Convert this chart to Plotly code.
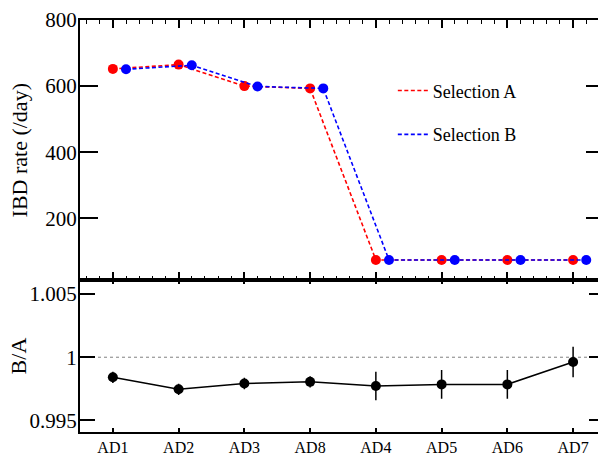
import plotly.graph_objects as go

detectors = ["AD1", "AD2", "AD3", "AD8", "AD4", "AD5", "AD6", "AD7"]
rate_A = [652, 665, 600, 593, 74, 74, 74, 74]
rate_B = [651, 663, 599, 593, 74, 74, 74, 74]
ratio_BA = [0.99841, 0.99746, 0.99792, 0.99805, 0.99772, 0.99785, 0.99785, 0.99962]
ratio_err = [0.00045, 0.00045, 0.00045, 0.00045, 0.00113, 0.00113, 0.00113, 0.0012]

pos = list(range(len(detectors)))
offset_B = 0.2
pos_B = [p + offset_B for p in pos]

FONT = "Liberation Serif"
RED = "#ff0000"
BLUE = "#0000ff"
DASH = "4px,2.5px"

fig = go.Figure()

# Selection A
fig.add_trace(go.Scatter(x=pos, y=rate_A, mode="lines", name="Selection A",
                         line=dict(color=RED, width=1.6, dash=DASH),
                         xaxis="x", yaxis="y", legend="legend"))
fig.add_trace(go.Scatter(x=pos, y=rate_A, mode="markers", showlegend=False,
                         marker=dict(color=RED, size=10),
                         xaxis="x", yaxis="y"))
# Selection B
fig.add_trace(go.Scatter(x=pos_B, y=rate_B, mode="lines", name="Selection B",
                         line=dict(color=BLUE, width=1.6, dash=DASH),
                         xaxis="x", yaxis="y", legend="legend2"))
fig.add_trace(go.Scatter(x=pos_B, y=rate_B, mode="markers", showlegend=False,
                         marker=dict(color=BLUE, size=10),
                         xaxis="x", yaxis="y"))

# Ratio
fig.add_trace(go.Scatter(x=pos, y=ratio_BA, mode="lines+markers", showlegend=False,
                         line=dict(color="black", width=1.5),
                         marker=dict(color="black", size=10),
                         error_y=dict(type="data", array=ratio_err, visible=True,
                                      color="black", thickness=1.5, width=0),
                         xaxis="x2", yaxis="y2"))

split = 0.3679
common_axis = dict(showline=True, linecolor="black", linewidth=2, mirror="ticks",
                   ticks="inside", tickcolor="black", showgrid=False, zeroline=False,
                   ticklabeloverflow="allow",
                   tickfont=dict(family=FONT, size=21, color="black"))

fig.update_layout(
    width=598, height=448,
    margin=dict(l=72, r=0, t=2, b=22),
    paper_bgcolor="white", plot_bgcolor="white",
    font=dict(family=FONT, color="black"),
    xaxis=dict(common_axis, domain=[0, 1], range=[-0.5, 7.47], anchor="y",
               tickmode="array", tickvals=pos, showticklabels=False,
               ticklen=8, tickwidth=1.5,
               minor=dict(ticks="inside", ticklen=4, tickwidth=1.2, tickcolor="black",
                          tick0=0, dtick=0.2, showgrid=False)),
    yaxis=dict(common_axis, domain=[split, 1], range=[12, 800], anchor="x",
               tickmode="array", tickvals=[200, 400, 600, 800],
               ticklen=18, tickwidth=2, ticklabelstandoff=-3),
    xaxis2=dict(common_axis, domain=[0, 1], range=[-0.5, 7.47], anchor="y2",
                matches="x", tickmode="array", tickvals=pos, ticktext=detectors,
                tickfont=dict(family=FONT, size=16, color="black"),
                ticklen=4, tickwidth=1.5),
    yaxis2=dict(common_axis, domain=[0, split], range=[0.99408, 1.00608], anchor="x2",
                tickmode="array", tickvals=[0.995, 1, 1.005],
                ticktext=["0.995", "1", "1.005"],
                ticklen=15, tickwidth=2, ticklabelstandoff=-3),
    legend=dict(x=0.597, y=0.828, xanchor="left", yanchor="middle",
                bgcolor="rgba(0,0,0,0)", borderwidth=0,
                font=dict(family=FONT, size=18, color="black")),
    legend2=dict(x=0.597, y=0.7217, xanchor="left", yanchor="middle",
                 bgcolor="rgba(0,0,0,0)", borderwidth=0,
                 font=dict(family=FONT, size=18, color="black")),
    shapes=[dict(type="line", xref="x2 domain", x0=0, x1=1, yref="y2", y0=1, y1=1,
                 line=dict(color="gray", width=1, dash="3px,3px"), layer="below")],
    annotations=[
        dict(text="IBD rate (/day)", textangle=-90, xref="paper", yref="paper",
             x=-0.116, y=(split + 1) / 2, xanchor="center", yanchor="middle",
             showarrow=False, font=dict(family=FONT, size=22, color="black")),
        dict(text="B/A", textangle=-90, xref="paper", yref="paper",
             x=-0.118, y=split / 2, xanchor="center", yanchor="middle",
             showarrow=False, font=dict(family=FONT, size=22, color="black")),
    ],
)

fig.write_html("out.html")
